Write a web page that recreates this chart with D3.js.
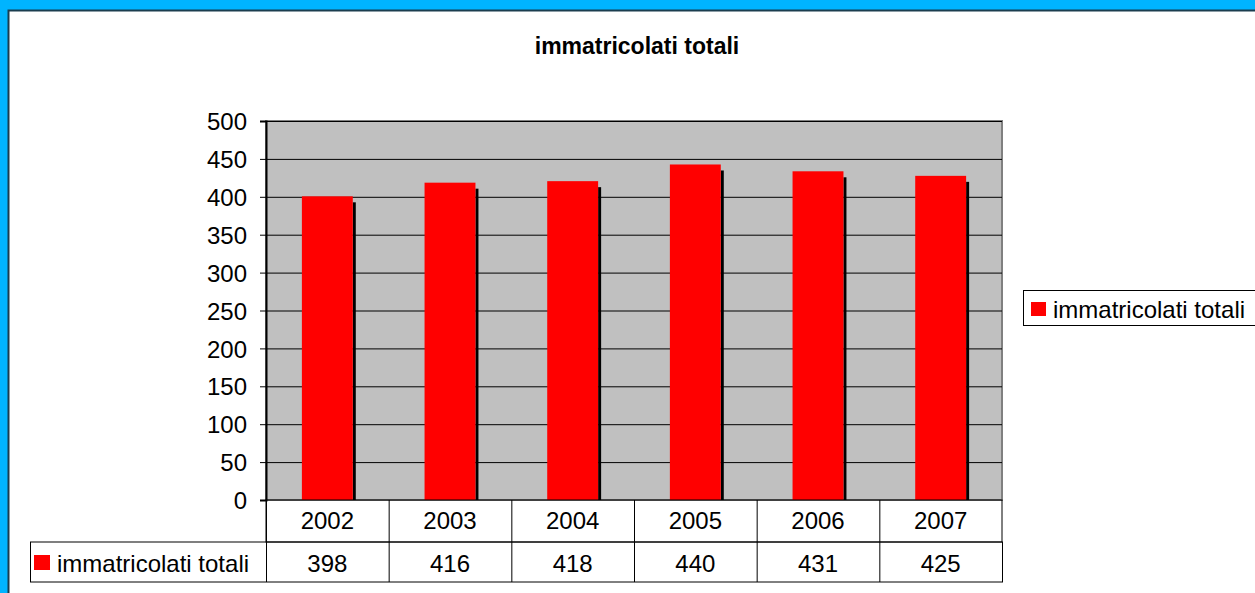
<!DOCTYPE html>
<html>
<head>
<meta charset="utf-8">
<script src="https://cdn.jsdelivr.net/npm/d3@7"></script>
<style>
  html, body { margin: 0; padding: 0; background: #00b4ff; }
  svg { display: block; font-family: "Liberation Sans", Arial, sans-serif; }
</style>
</head>
<body>
<div id="chart"></div>
<script>
// dati
const anni = ['2002', '2003', '2004', '2005', '2006', '2007'];
const immatricolati = [398, 416, 418, 440, 431, 425];
const yTicks = [0, 50, 100, 150, 200, 250, 300, 350, 400, 450, 500];
const serieNome = 'immatricolati totali';

const W = 1255, H = 593;
const svg = d3.select('#chart').append('svg')
    .attr('width', W)
    .attr('height', H);

// sfondo blu + area bianca
svg.append('rect').attr('width', W).attr('height', H).attr('fill', '#00b4ff');
svg.append('rect')
    .attr('x', 8.5).attr('y', 10.5)
    .attr('width', W).attr('height', H)
    .attr('fill', '#fff')
    .attr('stroke', '#1b3d4f')
    .attr('stroke-width', 2);

// titolo
svg.append('text')
    .attr('x', 637).attr('y', 54)
    .attr('text-anchor', 'middle')
    .style('font-weight', 'bold')
    .style('font-size', '23px')
    .text(serieNome);

// area del grafico
const plot = {left: 266, right: 1002, top: 121, bottom: 500};

const x = d3.scaleBand()
    .domain(anni)
    .range([plot.left, plot.right]);

const y = d3.scaleLinear()
    .domain([0, 500])
    .range([plot.bottom, plot.top]);

svg.append('rect')
    .attr('x', plot.left).attr('y', plot.top)
    .attr('width', plot.right - plot.left)
    .attr('height', plot.bottom - plot.top)
    .attr('fill', '#c0c0c0')
    .attr('stroke', '#808080')
    .attr('stroke-width', 2);

// griglia
svg.append('g')
    .selectAll('line')
    .data(yTicks.filter(d => d > 0))
    .enter()
    .append('line')
    .attr('x1', plot.left).attr('x2', plot.right)
    .attr('y1', d => y(d) + 0.5).attr('y2', d => y(d) + 0.5)
    .attr('stroke', '#000')
    .attr('stroke-width', 1);

// barre con ombra
const bw = x.bandwidth() * 0.415;
const off = (x.bandwidth() - bw) / 2;

svg.append('g')
    .selectAll('rect')
    .data(immatricolati)
    .enter()
    .append('rect')
    .attr('x', (d, i) => x(anni[i]) + off + bw)
    .attr('y', d => y(d) + 4)
    .attr('width', 3)
    .attr('height', d => plot.bottom - y(d) - 4)
    .attr('fill', '#000');

svg.append('g')
    .selectAll('rect')
    .data(immatricolati)
    .enter()
    .append('rect')
    .attr('x', (d, i) => x(anni[i]) + off)
    .attr('y', d => y(d) - 2)
    .attr('width', bw)
    .attr('height', d => plot.bottom - y(d) + 2)
    .attr('fill', '#ff0000');

// asse y
const yAxis = svg.append('g')
    .attr('transform', `translate(${plot.left},0)`)
    .call(d3.axisLeft(y).tickValues(yTicks).tickSize(6).tickPadding(13).tickFormat(d3.format('d')));
yAxis.select('.domain').attr('stroke', '#000').attr('stroke-width', 2);
yAxis.selectAll('.tick line').attr('stroke', '#000');
yAxis.selectAll('text')
    .style('font-size', '24px')
    .attr('fill', '#000')
    .attr('dy', '0.36em')
    .attr('font-family', 'Liberation Sans, Arial, sans-serif');

// tabella dati
const row1 = {top: 500, bottom: 542};
const row2 = {top: 542, bottom: 582};
const tableLeft = 30;
const tab = svg.append('g');

tab.append('rect')
    .attr('x', plot.left).attr('y', row1.top)
    .attr('width', plot.right - plot.left).attr('height', row1.bottom - row1.top)
    .attr('fill', 'none').attr('stroke', '#000');
tab.append('rect')
    .attr('x', tableLeft + 0.5).attr('y', row2.top)
    .attr('width', plot.right - tableLeft).attr('height', row2.bottom - row2.top)
    .attr('fill', 'none').attr('stroke', '#000');

tab.selectAll('.col')
    .data(anni)
    .enter()
    .append('line')
    .attr('x1', d => x(d) + 0.5).attr('x2', d => x(d) + 0.5)
    .attr('y1', row1.top).attr('y2', row2.bottom)
    .attr('stroke', '#000');

tab.selectAll('.anno')
    .data(anni)
    .enter()
    .append('text')
    .attr('x', d => x(d) + x.bandwidth() / 2)
    .attr('y', 529)
    .attr('text-anchor', 'middle')
    .style('font-size', '24px')
    .text(d => d);

tab.selectAll('.valore')
    .data(immatricolati)
    .enter()
    .append('text')
    .attr('x', (d, i) => x(anni[i]) + x.bandwidth() / 2)
    .attr('y', 572)
    .attr('text-anchor', 'middle')
    .style('font-size', '24px')
    .text(d => d);

tab.append('rect')
    .attr('x', 34).attr('y', 555)
    .attr('width', 16).attr('height', 15)
    .attr('fill', '#ff0000');
tab.append('text')
    .attr('x', 57).attr('y', 572)
    .style('font-size', '24px')
    .text(serieNome);

// legenda
const leg = svg.append('g');
leg.append('rect')
    .attr('x', 1023.5).attr('y', 290.5)
    .attr('width', 260).attr('height', 35)
    .attr('fill', '#fff')
    .attr('stroke', '#000');
leg.append('rect')
    .attr('x', 1031).attr('y', 302)
    .attr('width', 15).attr('height', 14)
    .attr('fill', '#ff0000');
leg.append('text')
    .attr('x', 1053).attr('y', 318)
    .style('font-size', '24px')
    .text(serieNome);
</script>
</body>
</html>
